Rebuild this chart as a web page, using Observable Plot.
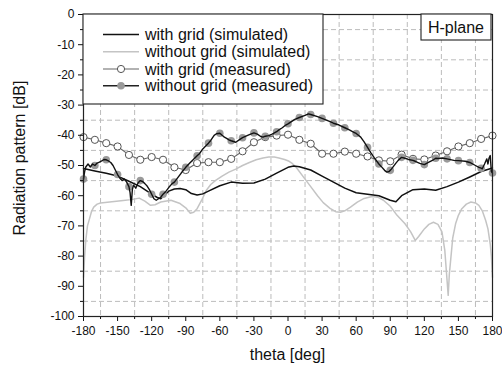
<!DOCTYPE html>
<html><head><meta charset="utf-8">
<script src="https://cdn.jsdelivr.net/npm/d3@7"></script>
<script src="https://cdn.jsdelivr.net/npm/@observablehq/plot@0.6"></script>
<style>
html,body{margin:0;padding:0;background:#fff;}
#chart{position:relative;width:502px;height:368px;}
svg{font-family:"Liberation Sans",Arial,sans-serif;}
</style></head><body><div id="chart"></div>
<script>
// ---- tick values ----
const xTicks = [-180,-150,-120,-90,-60,-30,0,30,60,90,120,150,180];
const xMinorTicks = [-165,-135,-105,-75,-45,-15,15,45,75,105,135,165];
const yTicks = [0,-10,-20,-30,-40,-50,-60,-70,-80,-90,-100];
const yMinorTicks = [-5,-15,-25,-35,-45,-55,-65,-75,-85,-95];

// ---- with grid (simulated) ----
const simWithTheta = [-180,-170,-160,-150,-140,-130,-120,-115,-112,-105,-100,-95,-90,-85,-80,-75,-70,-60,-50,-40,-30,-20,-10,0,5,10,20,30,40,50,60,70,80,90,95,100,110,120,130,140,150,160,170,180];
const simWithDb    = [-51,-51.8,-52.6,-53.5,-55.2,-57,-59.5,-60.6,-61,-58.5,-57.8,-57.6,-58,-59.3,-59.8,-59.4,-58.5,-56.7,-55.5,-55.9,-55.8,-54.5,-52.5,-50.6,-50.2,-50.4,-51.5,-53.5,-55.5,-57.5,-59,-59.5,-60,-61.5,-62,-60,-58,-57.8,-58.2,-57,-55.5,-53.8,-52,-50.8];

// ---- without grid (simulated) ----
const simWithoutTheta = [-180,-179,-178,-176.5,-175,-173,-171,-168,-165,-155,-145,-138,-131,-126,-121,-117,-112,-103,-95,-90,-86,-83,-80,-76,-72,-68,-64,-58,-52,-46,-40,-34,-28,-22,-17,-12,-8,-3,1,4,8,14,20,26,31,37,42,46,50,55,61,67,74,79,84,90,96,103,108,112,115,120,124,128,132,135.5,138,140,141,142,143.5,145,147.5,150,153,157,161,165,168,171,174,176,178,179,180];
const simWithoutDb    = [-87,-80,-74.8,-70,-68,-65.3,-63.8,-62.8,-62.4,-62,-61.6,-61.3,-60.8,-61.8,-63.2,-63,-62.1,-61.5,-62.6,-64,-65.8,-65.5,-64.3,-61.5,-58.3,-56.3,-55,-53.5,-52.2,-51.2,-50,-49,-48.1,-47.5,-47.2,-47.2,-47.5,-48,-48.6,-49.4,-51,-54,-57,-60,-62.3,-64.2,-65.3,-65.5,-65,-63.8,-62.1,-60.9,-60.3,-60.5,-61.5,-63.5,-66.5,-69.3,-72,-74.8,-73.5,-71,-69.5,-68.8,-69.5,-72,-78,-88,-93,-86,-80,-74,-69.3,-66.5,-64.3,-62.8,-62.1,-62.4,-63.2,-65,-68.2,-71,-76,-80,-87];

// ---- with grid (measured) ----
const measWithTheta = [-180,-170,-160,-150,-140,-130,-120,-110,-100,-90,-80,-70,-60,-50,-40,-30,-20,-10,0,10,20,30,40,50,60,70,80,90,100,110,120,130,140,150,160,170,180];
const measWithDb    = [-40.6,-41.5,-42.6,-43.7,-46.5,-48.1,-47.2,-48.1,-50.6,-51.5,-49.2,-48.9,-48.9,-47.8,-45.3,-42.3,-40.6,-40.1,-39.8,-41.5,-42.8,-46.1,-46.1,-45.4,-46.1,-47,-48.3,-48.6,-46.4,-47.8,-48,-46.7,-45.3,-43.7,-42.6,-41.2,-40.1];

// ---- without grid (measured) ----
const measWithoutTheta = [-180,-179,-178,-176,-174,-172,-170,-168,-166,-164,-162,-160,-158,-156,-154,-152,-150,-148,-146,-144,-142,-140,-139,-138,-137,-136,-134,-132,-130,-128,-126,-124,-122,-120,-118,-116,-114,-112,-110,-108,-105,-102,-100,-97,-94,-90,-86,-84,-80,-78,-75,-72,-70,-68,-65,-63,-60,-58,-56,-54,-52,-50,-46,-43,-40,-37,-34,-30,-27,-24,-22,-20,-17,-14,-10,-8,-5,-2,0,2,6,10,15,18,20,26,30,36,40,45,50,54,58,60,64,67,70,73,76,80,82,85,87,89,90,91,93,95,97,100,103,106,110,112,116,120,124,128,130,132,136,140,146,150,156,160,165,168,170,171,173,175,176,177,178,179,180];
const measWithoutDb    = [-54.5,-52,-50.5,-49.5,-50.5,-49.5,-50,-49.2,-48.9,-48.5,-48,-48.1,-48.5,-49,-50,-51.5,-53,-54.2,-55,-54.5,-55.5,-57,-59,-63.2,-58,-56.5,-57.5,-55.8,-55,-55.3,-56,-56.8,-58,-59.5,-61,-61.5,-61,-60.5,-59.5,-58.8,-57.3,-56,-55.5,-54,-52.5,-50.6,-49,-48.3,-46.8,-46.1,-44.5,-43.4,-42.6,-41.7,-40,-39.5,-39.3,-40,-40.6,-41,-41.5,-41.8,-42.3,-41.5,-40.8,-40.3,-39.8,-39.2,-39.6,-40.4,-40.6,-40.3,-40.1,-39.6,-38.8,-38.2,-37.5,-36.6,-36.2,-35.7,-34.7,-34.1,-33.4,-32.9,-33.1,-33.8,-34.4,-35.3,-36,-36.6,-37.5,-38.2,-39,-39.4,-40.6,-42.2,-44,-45.8,-47.5,-49.5,-50.3,-51.6,-52.2,-52,-51.6,-51.2,-50.2,-49.2,-48.3,-47.3,-47.6,-48,-48.3,-48.6,-49.3,-49.7,-48.9,-48.1,-47.6,-47.7,-47.5,-47.8,-48.3,-48.4,-48.6,-49,-50,-50.6,-50.9,-51.1,-49.5,-47.8,-49.5,-47.5,-46.7,-52,-52.5];

// ---- legend / labels ----
const legendLabels = ["with grid (simulated)","without grid (simulated)","with grid (measured)","without grid (measured)"];
const xLabel = "theta [deg]";
const yLabel = "Radiation pattern [dB]";
const planeLabel = "H-plane";

const zip = (t, v) => t.map((x, i) => ({theta: x, db: v[i]}));
const simWith = zip(simWithTheta, simWithDb);
const simWithout = zip(simWithoutTheta, simWithoutDb);
const measWith = zip(measWithTheta, measWithDb);
const measWithout = zip(measWithoutTheta, measWithoutDb);
const measWithoutDots = measWithout.filter(d => d.theta % 10 === 0);

const gridStyle = {stroke: "#bcbcbc", strokeOpacity: 1, strokeWidth: 1, strokeDasharray: "5,3"};
const fmt = d => String(d);

const plot = Plot.plot({
  width: 502, height: 368,
  marginLeft: 83, marginRight: 10, marginTop: 14, marginBottom: 52,
  style: {fontFamily: "'Liberation Sans', Arial, sans-serif", fontSize: "12px", background: "#fff", color: "#111"},
  x: {domain: [-180, 180]},
  y: {domain: [-100, 0]},
  marks: [
    Plot.gridX(xMinorTicks, gridStyle),
    Plot.gridY(yMinorTicks, gridStyle),
    Plot.line(simWithout, {x: "theta", y: "db", stroke: "#c4c4c4", strokeWidth: 1.5}),
    Plot.line(simWith, {x: "theta", y: "db", stroke: "#111", strokeWidth: 1.5}),
    Plot.line(measWith, {x: "theta", y: "db", stroke: "#666", strokeWidth: 1.1}),
    Plot.dot(measWith, {x: "theta", y: "db", fill: "white", stroke: "#555", strokeWidth: 1, r: 3.6}),
    Plot.dot(measWithoutDots, {x: "theta", y: "db", fill: "#9a9a9a", r: 3.8}),
    Plot.line(measWithout, {x: "theta", y: "db", stroke: "#111", strokeWidth: 1.4}),
    Plot.axisX({ticks: xTicks, tickSize: 5, tickPadding: 5, label: null, fontSize: 12, tickFormat: fmt}),
    Plot.axisX({ticks: xMinorTicks, tickSize: 3, tickFormat: () => "", label: null}),
    Plot.axisY({ticks: yTicks, tickSize: 5, tickPadding: 4, label: null, fontSize: 12, tickFormat: fmt}),
    Plot.axisY({ticks: yMinorTicks, tickSize: 3, tickFormat: () => "", label: null}),
    Plot.frame({stroke: "#222", strokeWidth: 1.2})
  ]
});
document.getElementById("chart").appendChild(plot);

// ---- overlay: legend, plane label, axis titles ----
const svg = d3.select(plot);
const ff = "'Liberation Sans', Arial, sans-serif";
const lg = svg.append("g");
lg.append("rect").attr("x", 83).attr("y", 14).attr("width", 240).attr("height", 90)
  .attr("fill", "white").attr("stroke", "#222").attr("stroke-width", 1.1);
const rowY = [34.5, 51.7, 69, 85.8];
const lineStyles = [
  {stroke: "#111", w: 1.5},
  {stroke: "#c4c4c4", w: 1.5},
  {stroke: "#666", w: 1.1},
  {stroke: "#222", w: 1.4}
];
legendLabels.forEach((lab, i) => {
  const y = rowY[i];
  lg.append("line").attr("x1", 103).attr("x2", 139).attr("y1", y).attr("y2", y)
    .attr("stroke", lineStyles[i].stroke).attr("stroke-width", lineStyles[i].w);
  if (i === 2) lg.append("circle").attr("cx", 121).attr("cy", y).attr("r", 3.6)
    .attr("fill", "white").attr("stroke", "#555");
  if (i === 3) lg.append("circle").attr("cx", 121).attr("cy", y).attr("r", 3.8).attr("fill", "#9a9a9a");
  lg.append("text").attr("x", 145).attr("y", y).attr("dy", "0.35em").attr("text-anchor", "start")
    .attr("font-size", 16).attr("font-family", ff).attr("fill", "#111").text(lab);
});
const hp = svg.append("g");
hp.append("rect").attr("x", 421).attr("y", 14).attr("width", 70).attr("height", 26)
  .attr("fill", "white").attr("stroke", "#222").attr("stroke-width", 1.1);
hp.append("text").attr("x", 456).attr("y", 27).attr("dy", "0.35em").attr("text-anchor", "middle")
  .attr("font-size", 16).attr("font-family", ff).attr("fill", "#111").text(planeLabel);
svg.append("text").attr("x", 287.5).attr("y", 360).attr("text-anchor", "middle")
  .attr("font-size", 16).attr("font-family", ff).attr("fill", "#111").text(xLabel);
svg.append("text").attr("transform", "translate(24.5,158) rotate(-90)").attr("text-anchor", "middle")
  .attr("font-size", 16).attr("font-family", ff).attr("fill", "#111").text(yLabel);
</script></body></html>
